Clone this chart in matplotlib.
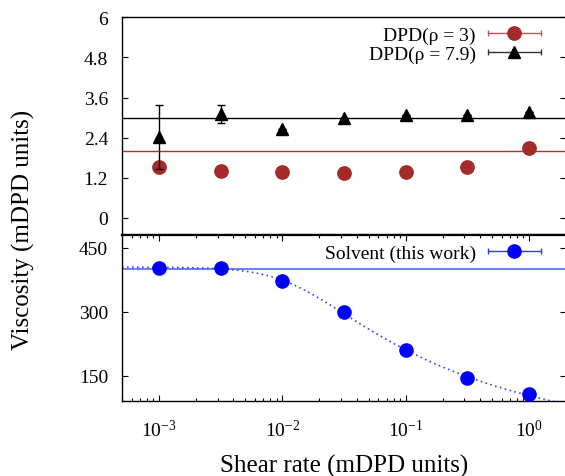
import numpy as np
import matplotlib
matplotlib.use("Agg")
import matplotlib.pyplot as plt
from matplotlib.container import ErrorbarContainer
from matplotlib.legend_handler import HandlerErrorbar
from matplotlib.ticker import (FixedLocator, LogLocator, NullFormatter,
                               LogFormatterSciNotation)

plt.rcParams["font.family"] = ["Liberation Serif", "DejaVu Serif"]
plt.rcParams["mathtext.fontset"] = "custom"
plt.rcParams["mathtext.rm"] = "Liberation Serif"
plt.rcParams["mathtext.it"] = "Liberation Serif:italic"
plt.rcParams["mathtext.bf"] = "Liberation Serif:bold"

# ---------------------------------------------------------------- data
shear_rate = [1e-3, 3.16e-3, 1e-2, 3.16e-2, 1e-1, 3.16e-1, 1.0]

eta_rho3 = [1.52, 1.39, 1.37, 1.35, 1.36, 1.52, 2.10]
eta_rho79 = [2.42, 3.12, 2.67, 3.00, 3.08, 3.08, 3.17]
err_rho79 = [0.96, 0.27, 0.0, 0.0, 0.0, 0.0, 0.0]
ref_rho3 = 2.0
ref_rho79 = 3.0

eta_solvent = [403, 401, 372, 298, 209, 144.5, 107]
ref_solvent = 399

top_yticks = [0, 1.2, 2.4, 3.6, 4.8, 6]
top_yticklabels = ["0", "1.2", "2.4", "3.6", "4.8", "6"]
bot_yticks = [150, 300, 450]

labels_top = ["DPD(ρ = 3)", "DPD(ρ = 7.9)"]
label_bot = "Solvent (this work)"

RED = "#a52a2a"
RED_LINE = "#b03030"
BLUE = "#0000ff"
BLUE_LINE = "#5468ff"
BLACK = "#000000"

# --------------------------------------------- Carreau fit of the solvent
gam = np.asarray(shear_rate)
eta = np.asarray(eta_solvent, dtype=float)
lams = np.logspace(0, 4, 401)
ns = np.linspace(0.0, 1.0, 201)
L, N = np.meshgrid(lams, ns, indexing="ij")
shape = (1 + (L[..., None] * gam) ** 2) ** ((N[..., None] - 1) / 2)
eta0 = (shape * eta).sum(-1) / (shape ** 2).sum(-1)
resid = ((eta0[..., None] * shape - eta) ** 2).sum(-1)
i, j = np.unravel_index(resid.argmin(), resid.shape)
fit_eta0, fit_lam, fit_n = eta0[i, j], lams[i], ns[j]
g_fit = np.logspace(np.log10(5e-4), np.log10(2.0), 400)
eta_fit = fit_eta0 * (1 + (fit_lam * g_fit) ** 2) ** ((fit_n - 1) / 2)

# ---------------------------------------------------------------- figure
W, H = 565, 477
fig = plt.figure(figsize=(W / 100, H / 100), dpi=100)


def rect(l, t, r, b):
    return [l / W, 1 - b / H, (r - l) / W, (b - t) / H]


ax_top = fig.add_axes(rect(122, 18.3, 566, 235.7))
ax_bot = fig.add_axes(rect(122, 235.7, 566, 402.3))

for ax in (ax_top, ax_bot):
    ax.set_xscale("log")
    ax.set_xlim(5e-4, 2.0)
    for s in ax.spines.values():
        s.set_linewidth(1.0)
    ax.tick_params(which="both", direction="in", width=0.8,
                   labelsize=14, pad=10)
    ax.tick_params(which="major", length=4.3)
    ax.tick_params(which="minor", length=2.2)
ax_top.spines["bottom"].set_linewidth(1.6)
ax_bot.spines["top"].set_linewidth(1.6)

# upper panel: DPD fluids
ax_top.set_ylim(-0.5, 6)
ax_top.yaxis.set_major_locator(FixedLocator(top_yticks))
ax_top.set_yticklabels(top_yticklabels)
ax_top.tick_params(axis="y", left=True, right=True)
ax_top.tick_params(axis="x", which="both", bottom=False, top=False,
                   labelbottom=False)

ax_top.axhline(ref_rho3, color=RED_LINE, lw=1.0, zorder=1)
ax_top.axhline(ref_rho79, color=BLACK, lw=1.0, zorder=1)
ax_top.plot(shear_rate, eta_rho3, "o", ms=9.6, color=RED, mec=RED,
            zorder=3)
ax_top.errorbar(shear_rate, eta_rho79, yerr=err_rho79, fmt="^", ms=9,
                color=BLACK, ecolor=BLACK, elinewidth=1.0, capsize=3,
                capthick=1.0, zorder=4)

# legend samples drawn as horizontal bars with end caps
p_red = ax_top.errorbar([np.nan], [np.nan], xerr=[1.0], fmt="o", ms=9.6,
                        color=RED, ecolor="#c85050", elinewidth=1.0,
                        capsize=2.5, capthick=1.0, label=labels_top[0])
p_blk = ax_top.errorbar([np.nan], [np.nan], xerr=[1.0], fmt="^", ms=9,
                        color=BLACK, ecolor="#333333", elinewidth=1.0,
                        capsize=2.5, capthick=1.0, label=labels_top[1])

HL = 2.73
hmap = {ErrorbarContainer: HandlerErrorbar(xerr_size=HL / 2)}
leg_kw = dict(loc="upper right", frameon=False, markerfirst=False,
              fontsize=14, handlelength=HL, handletextpad=0.62,
              labelspacing=0.1, borderpad=0, borderaxespad=0,
              numpoints=1, handler_map=hmap)
ax_top.legend(handles=[p_red, p_blk], bbox_to_anchor=(0.943, 0.960),
              **leg_kw)

# lower panel: solvent
ax_bot.set_ylim(90, 480)
ax_bot.yaxis.set_major_locator(FixedLocator(bot_yticks))
ax_bot.tick_params(axis="y", left=True, right=True)
ax_bot.tick_params(axis="x", which="both", bottom=True, top=True, pad=13)
ax_bot.xaxis.set_major_locator(LogLocator(base=10, numticks=10))
ax_bot.xaxis.set_minor_locator(LogLocator(base=10, subs=np.arange(2, 10),
                                          numticks=20))
ax_bot.xaxis.set_major_formatter(LogFormatterSciNotation())
ax_bot.xaxis.set_minor_formatter(NullFormatter())

ax_bot.axhline(ref_solvent, color=BLUE_LINE, lw=1.2, zorder=1)
ax_bot.plot(g_fit, eta_fit, color="#3344ff", lw=1.2, ls=(0, (1, 2)),
            zorder=2)
ax_bot.plot(shear_rate, eta_solvent, "o", ms=9.5, color=BLUE, mec=BLUE,
            zorder=3)

p_blue = ax_bot.errorbar([np.nan], [np.nan], xerr=[1.0], fmt="o", ms=9.5,
                         color=BLUE, ecolor="#2a3cff", elinewidth=1.0,
                         capsize=2.5, capthick=1.0, label=label_bot)
ax_bot.legend(handles=[p_blue], bbox_to_anchor=(0.9437, 0.944), **leg_kw)

# shared axis titles
fig.text(23 / W, 1 - 229.5 / H, "Viscosity (mDPD units)", rotation=90,
         ha="center", va="center", fontsize=18)
fig.text(344 / W, 1 - 472.5 / H, "Shear rate (mDPD units)", ha="center",
         va="baseline", fontsize=18)

fig.savefig("out.png", dpi=100)
